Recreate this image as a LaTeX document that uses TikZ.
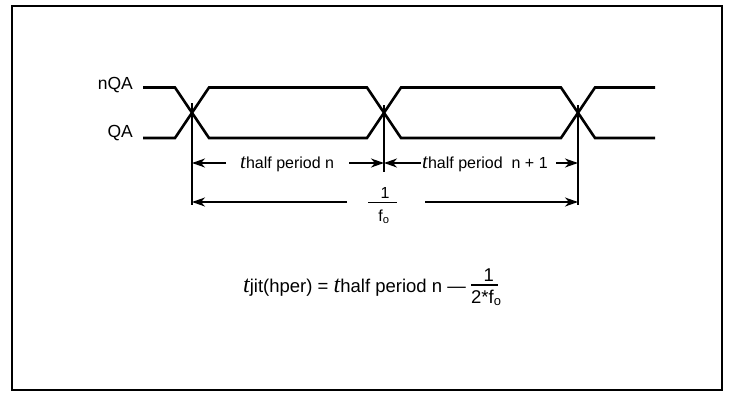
\documentclass[tikz,border=0pt]{standalone}
\usepackage{fontspec}
\setmainfont{Liberation Sans}
\newfontfamily\serifit{Liberation Serif}
\usetikzlibrary{arrows.meta}

% italic time symbol
\newcommand{\tsym}[1][21]{{\fontsize{#1}{#1}\selectfont\serifit\itshape t}}

\begin{document}
\begin{tikzpicture}[
    x=1pt, y=-1pt,
    signal/.style={
      line width=2.6pt,
      line join=miter
    },
    marker/.style={
      line width=1.1pt
    },
    dim/.style={
      line width=1.4pt,
      -{Stealth[length=13pt,width=9pt,inset=4pt]}
    },
    txt/.style={
      font=\fontsize{16}{18}\selectfont,
      inner sep=0pt
    },
    eqn/.style={
      font=\fontsize{18.5}{20}\selectfont,
      inner sep=0pt
    },
    signame/.style={
      font=\fontsize{17.5}{19}\selectfont,
      inner sep=0pt,
      anchor=east
    }
  ]
    \useasboundingbox (0,0) rectangle (732,392);

    % outer frame
    \draw[line width=2.4pt] (12,6) rectangle (722,390);

    % signal names
    \node[signame] (nqa) at (133,85) {nQA};
    \node[signame] (qa) at (133,133) {QA};

    % differential waveforms
    \draw[signal] (143,87.5) -- (175,87.5) -- (209,138) -- (367,138) -- (401,87.5)
      -- (561,87.5) -- (595,138) -- (655,138);
    \draw[signal] (143,138) -- (175,138) -- (209,87.5) -- (367,87.5) -- (401,138)
      -- (561,138) -- (595,87.5) -- (655,87.5);

    % crossing markers
    \coordinate (m1top) at (192,103);
    \coordinate (m1bot) at (192,205);
    \coordinate (m2top) at (384,105);
    \coordinate (m2bot) at (384,172);
    \coordinate (m3top) at (578,105);
    \coordinate (m3bot) at (578,205);
    \draw[marker] (m1top) -- (m1bot);
    \draw[marker] (m2top) -- (m2bot);
    \draw[marker] (m3top) -- (m3bot);

    % half period n
    \node[txt, anchor=base west] (hpn) at (240,168.5) {\tsym half period n};
    \coordinate (hpnL) at (226,163);
    \coordinate (hpnR) at (349,163);
    \draw[dim] (hpnL) -- (hpnL -| m1top);
    \draw[dim] (hpnR) -- (hpnR -| m2top);

    % half period n + 1
    \node[txt, anchor=base west] (hpm) at (422,168.5) {\tsym half period\ \ n + 1};
    \coordinate (hpmL) at (421,163);
    \coordinate (hpmR) at (556,163);
    \draw[dim] (hpmL) -- (hpmL -| m2top);
    \draw[dim] (hpmR) -- (hpmR -| m3top);

    % full period 1/fo
    \node[inner sep=0pt] (fbar) at (382.5,202.5) {\rule{29pt}{1.3pt}};
    \node[txt, anchor=base] (fnum) at (385,198) {1};
    \node[txt, anchor=base] (fden) at (384,221) {f\textsubscript{o}};
    \coordinate (fL) at (347,202);
    \coordinate (fR) at (425,202);
    \draw[dim] (fL) -- (fL -| m1bot);
    \draw[dim] (fR) -- (fR -| m3bot);

    % jitter definition
    \node[eqn, anchor=base west] (jit) at (243,292)
      {\tsym[24]jit(hper) = \tsym[24]half period n —};
    \node[inner sep=0pt, anchor=west, xshift=5pt, yshift=7pt] (jbar) at (jit.base east)
      {\rule{27pt}{1.3pt}};
    \node[eqn, anchor=base, xshift=4pt, yshift=3pt] (jnum) at (jbar.north) {1};
    \node[eqn, anchor=base west, yshift=-18pt] (jden) at (jbar.west) {2*f\textsubscript{o}};

  \end{tikzpicture}
\end{document}
